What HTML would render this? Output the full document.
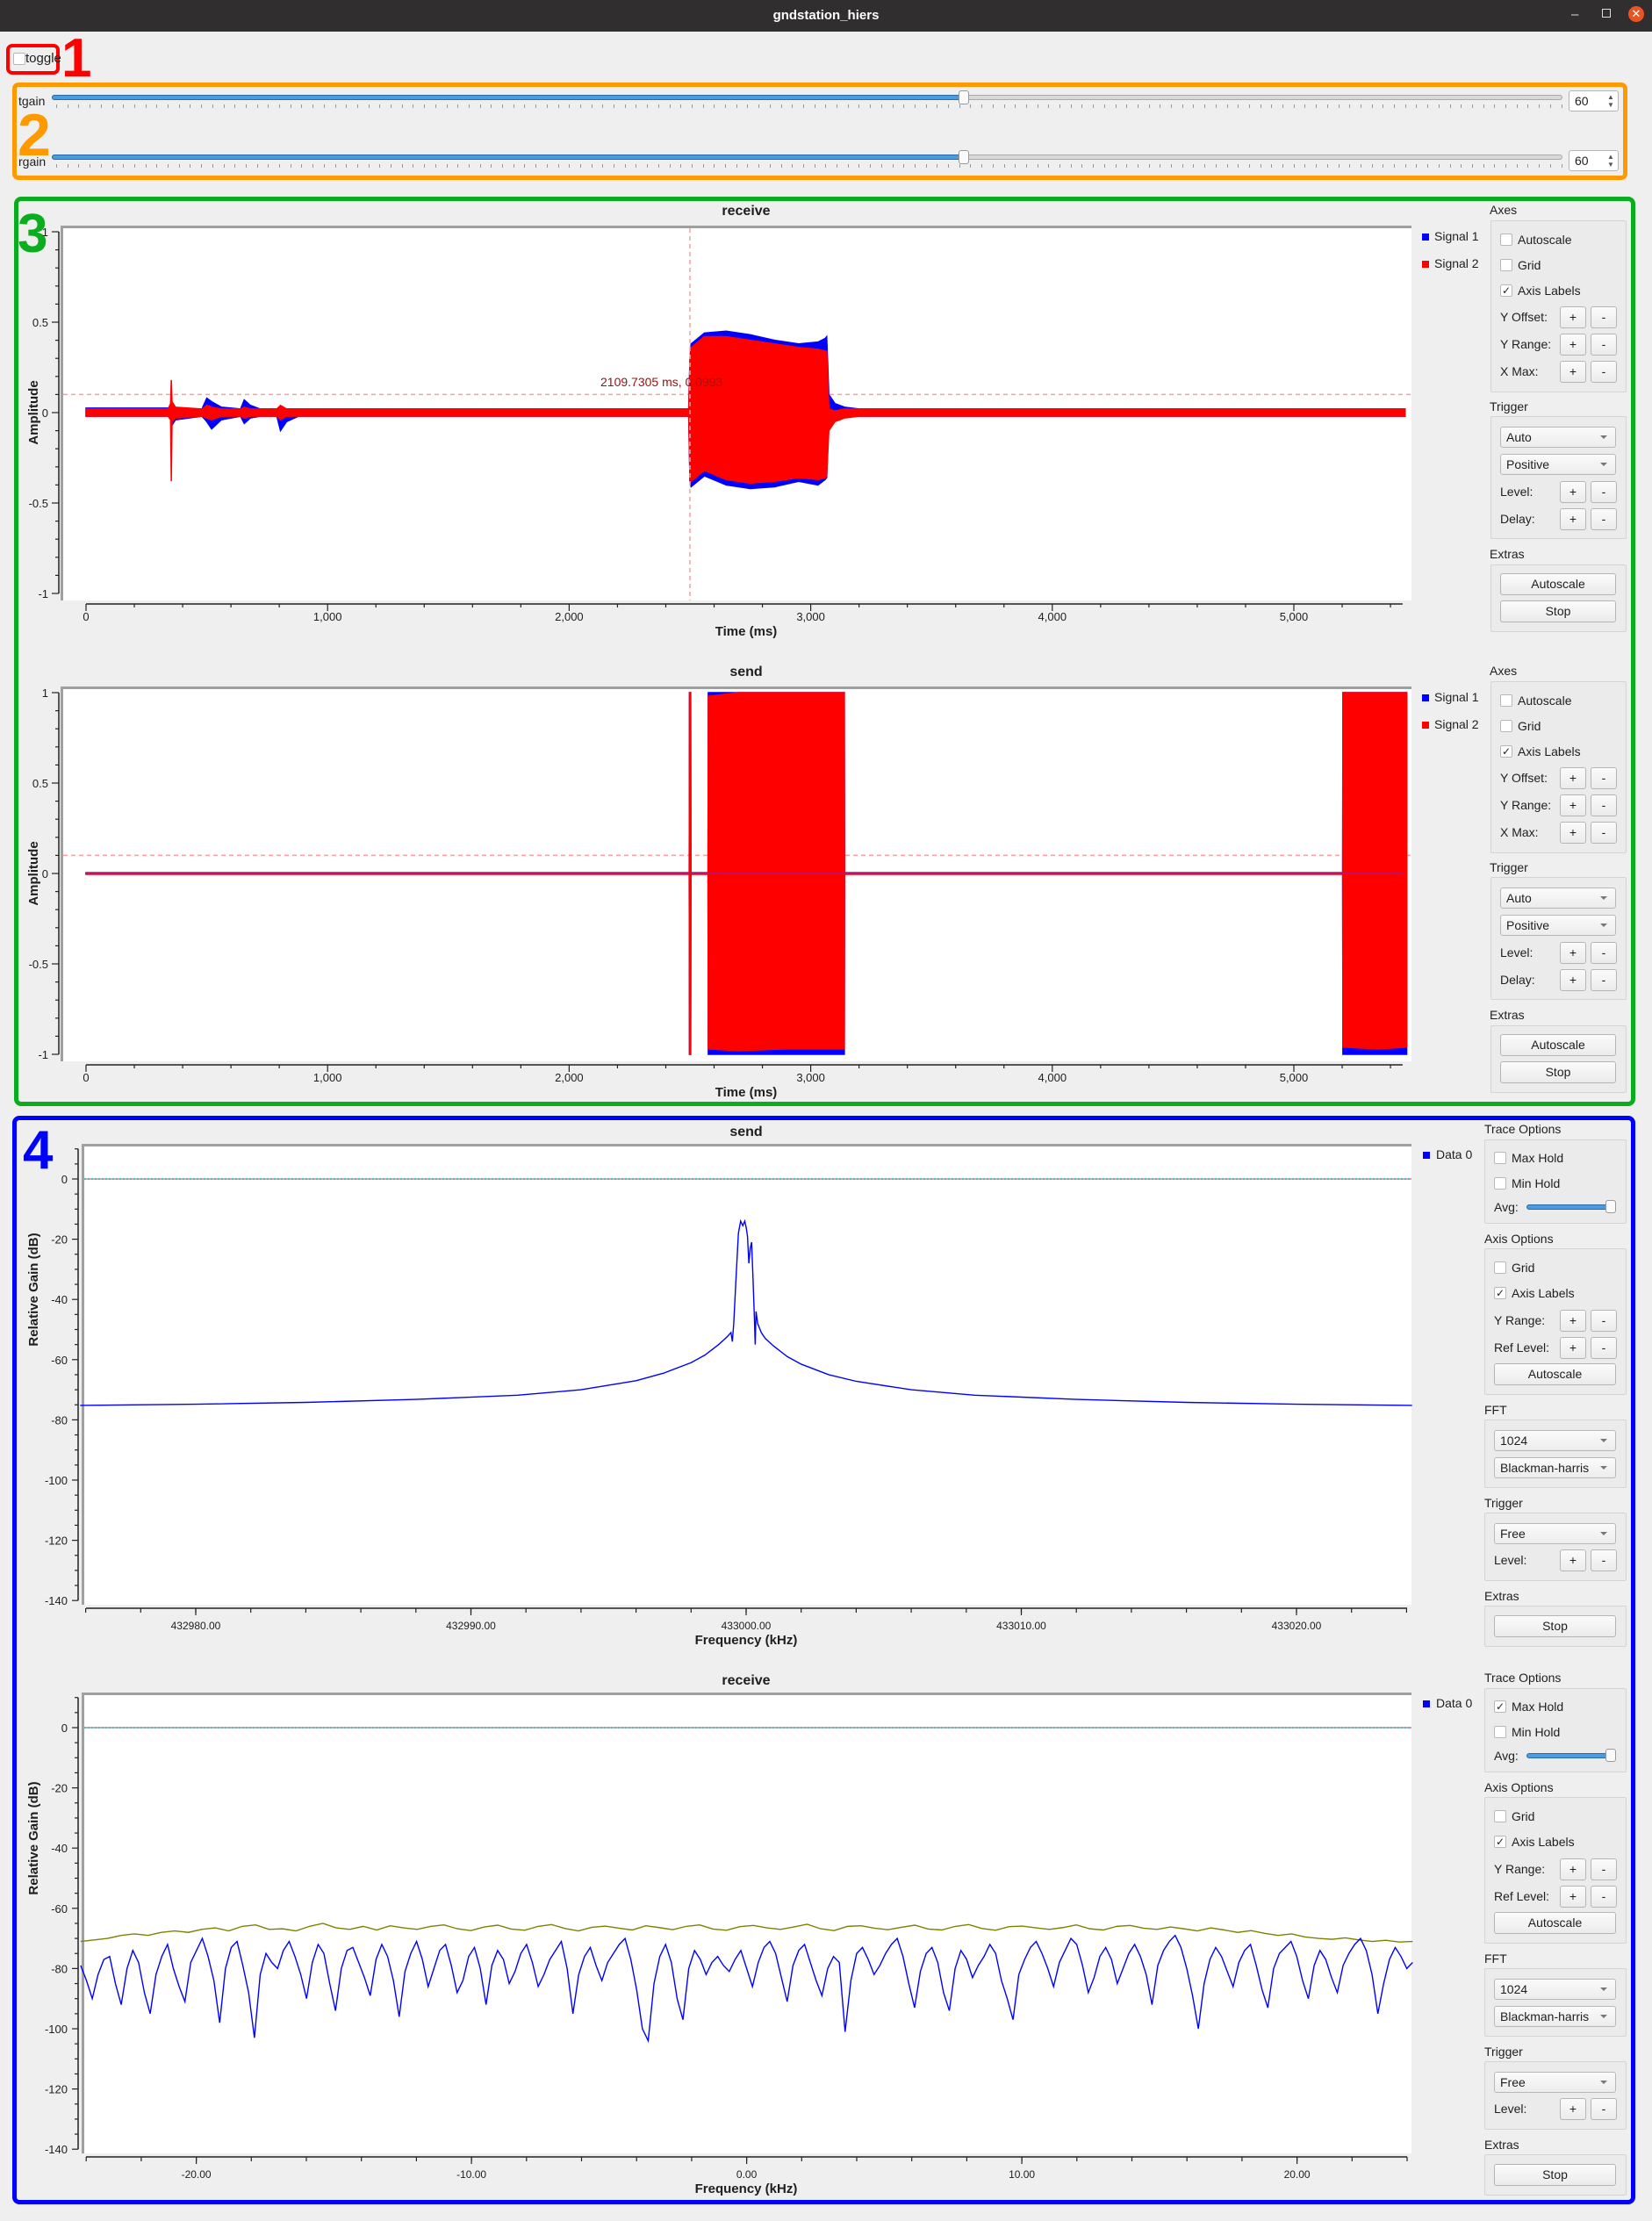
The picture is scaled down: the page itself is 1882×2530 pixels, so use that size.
<!DOCTYPE html>
<html><head><meta charset="utf-8"><title>gndstation_hiers</title>
<style>
html,body{margin:0;padding:0;}
body{width:1882px;height:2530px;background:#efefef;position:relative;overflow:hidden;font-family:"Liberation Sans","DejaVu Sans",sans-serif;color:#1e1e1e;}
.abs{position:absolute;box-sizing:border-box;}
.grp{position:absolute;box-sizing:border-box;border:1px solid #d4d4d4;background:#ebebeb;border-radius:2px;}
.lbl{position:absolute;font-size:14px;line-height:16px;white-space:nowrap;}
.btn{position:absolute;box-sizing:border-box;border:1px solid #b5b5b5;border-radius:3px;background:linear-gradient(#fbfbfb,#ebebeb);font-size:14px;text-align:center;}
.cb{position:absolute;box-sizing:border-box;width:14px;height:14px;border:1px solid #b8b8b8;background:#fff;border-radius:2px;font-size:12px;line-height:12px;text-align:center;}
.combo{position:absolute;box-sizing:border-box;border:1px solid #b8b8b8;border-radius:3px;background:linear-gradient(#fbfbfb,#ececec);font-size:14px;padding-left:6px;}
.combo:after{content:"";position:absolute;right:9px;top:9px;border-left:4px solid transparent;border-right:4px solid transparent;border-top:4px solid #777;}
.big{position:absolute;font-weight:bold;line-height:1;}
</style></head>
<body>
<div class="abs" style="left:0;top:0;width:1882px;height:36px;background:#302e2e;">
  <div class="abs" style="left:0;width:1882px;top:9px;text-align:center;color:#fff;font-weight:bold;font-size:15px;">gndstation_hiers</div>
  <div class="abs" style="left:1790px;top:8px;color:#ddd;font-size:15px;">–</div>
  <div class="abs" style="left:1825px;top:10px;width:10px;height:10px;border:1px solid #ddd;"></div>
  <div class="abs" style="left:1855px;top:7px;width:18px;height:18px;border-radius:9px;background:#e95420;color:#fff;font-size:13px;line-height:18px;text-align:center;">✕</div>
</div>

<!-- region 1 -->
<div class="abs" style="left:7px;top:50px;width:61px;height:35px;border:4px solid #ff0000;border-radius:7px;"></div>
<div class="cb" style="left:15px;top:60px;"></div>
<div class="lbl" style="left:29px;top:59px;font-size:15px;">toggle</div>
<div class="big" style="left:70px;top:36px;font-size:62px;color:#ff0000;">1</div>

<!-- region 2 -->
<div class="abs" style="left:14px;top:94px;width:1840px;height:111px;border:5px solid #ff9900;border-radius:7px;"></div>
<div class="big" style="left:20px;top:120px;font-size:68px;color:#ff9900;">2</div>
<div class="lbl" style="left:21px;top:107px;">tgain</div>
<div class="lbl" style="left:21px;top:176px;">rgain</div>
<div id="sliders"></div>

<!-- region 3 -->
<div class="abs" style="left:16px;top:224px;width:1847px;height:1036px;border:5px solid #0aad1e;border-radius:8px;"></div>
<div class="big" style="left:20px;top:236px;font-size:62px;color:#0aad1e;">3</div>

<!-- region 4 -->
<div class="abs" style="left:14px;top:1271px;width:1849px;height:1240px;border:5px solid #0000ff;border-radius:8px;"></div>
<div class="big" style="left:26px;top:1280px;font-size:62px;color:#0000ff;">4</div>

<div id="panels"></div>

<svg id="plots" width="1882" height="2530" style="position:absolute;left:0;top:0;pointer-events:none;" xmlns="http://www.w3.org/2000/svg"></svg>

<script>
// ===== Time sink data (receive) =====
const recvT    = [0, 340, 350, 353, 356, 370, 480, 500, 520, 560, 640, 655, 680, 720, 790, 805, 830, 880, 2495, 2500, 2505, 2560, 2650, 2750, 2850, 2950, 3030, 3060, 3066, 3075, 3100, 3140, 3200, 5460];
const recvS1Max= [0.025,0.025,0.03,0.03,0.03,0.02,0.02,0.08,0.06,0.03,0.02,0.07,0.04,0.02,0.02,0.03,0.02,0.02,0.02,0.30,0.38,0.44,0.45,0.43,0.40,0.38,0.39,0.41,0.42,0.10,0.05,0.03,0.02,0.02];
const recvS1Min= [-0.02,-0.02,-0.03,-0.05,-0.07,-0.04,-0.02,-0.05,-0.09,-0.04,-0.02,-0.06,-0.03,-0.02,-0.02,-0.10,-0.05,-0.02,-0.02,-0.38,-0.41,-0.35,-0.40,-0.42,-0.41,-0.38,-0.40,-0.37,-0.36,-0.03,-0.03,-0.02,-0.02,-0.02];
const recvS2Max= [0.02,0.02,0.05,0.18,0.06,0.03,0.02,0.04,0.03,0.02,0.02,0.03,0.02,0.02,0.02,0.04,0.02,0.02,0.02,0.28,0.36,0.42,0.42,0.40,0.38,0.36,0.35,0.34,0.34,0.02,0.01,0.02,0.02,0.02];
const recvS2Min= [-0.02,-0.02,-0.04,-0.38,-0.05,-0.03,-0.02,-0.03,-0.04,-0.02,-0.02,-0.03,-0.02,-0.02,-0.02,-0.04,-0.02,-0.02,-0.02,-0.36,-0.38,-0.32,-0.37,-0.39,-0.38,-0.36,-0.37,-0.36,-0.35,-0.10,-0.05,-0.03,-0.02,-0.02];
// ===== Time sink data (send) =====
const sendT    = [0, 2497, 2498, 2503, 2504, 2575, 2576, 2700, 2900, 3139, 3140, 5202, 5203, 5350, 5467];
const sendS1Max= [0.004,0.004,1,1,0.004,0.004,1,1,1,1,0.004,0.004,1,1,1];
const sendS1Min= [-0.004,-0.004,-1,-1,-0.004,-0.004,-1,-1,-1,-1,-0.004,-0.004,-1,-1,-1];
const sendS2Max= [0.004,0.004,1,1,0.004,0.004,0.98,1,1,1,0.004,0.004,1,1,1];
const sendS2Min= [-0.004,-0.004,-1,-1,-0.004,-0.004,-0.97,-0.98,-0.97,-0.97,-0.004,-0.004,-0.96,-0.97,-0.96];
const timeYTicks = [1, 0.5, 0, -0.5, -1];
const timeYTickLabels = ["1", "0.5", "0", "-0.5", "-1"];
const timeXTicks = [0, 1000, 2000, 3000, 4000, 5000];
const timeXTickLabels = ["0", "1,000", "2,000", "3,000", "4,000", "5,000"];
// ===== Frequency sink data (send), offset kHz from 433000 =====
const sendFreq = [-24.2,-20,-16,-12,-8.3,-6,-4,-3,-2,-1.5,-1,-0.7,-0.55,-0.5,-0.45,-0.35,-0.28,-0.2,-0.12,-0.05,0,0.05,0.1,0.15,0.2,0.25,0.3,0.33,0.36,0.42,0.55,0.7,1,1.5,2,3,4,6,8.3,12,16,20,24.2];
const sendDb   = [-75.2,-74.8,-74.2,-73.2,-71.8,-70,-67,-64.5,-61,-58.5,-55,-52.5,-51,-54,-48,-30,-18,-14,-15.5,-14,-16,-19,-28,-23,-21,-33,-46,-55,-44,-48,-51,-53,-55.5,-59,-61.5,-65,-67.2,-70,-71.8,-73.2,-74.2,-74.8,-75.2];
const sendFreqTicks = [432980, 432990, 433000, 433010, 433020];
const sendFreqTickLabels = ["432980.00","432990.00","433000.00","433010.00","433020.00"];
// ===== Frequency sink data (receive), kHz =====
const recvBlueDb = [
-79,-84,-90,-82,-77,-76,-85,-92,-80,-74,-78,-88,-95,-82,-76,-72,-80,-86,-91,-78,
-74,-70,-76,-84,-98,-80,-73,-71,-79,-88,-103,-82,-75,-78,-80,-74,-71,-76,-82,-90,
-78,-72,-75,-85,-94,-80,-74,-73,-78,-83,-89,-77,-72,-76,-84,-96,-81,-75,-71,-77,
-86,-80,-74,-72,-79,-88,-84,-76,-73,-80,-92,-79,-74,-77,-85,-81,-75,-72,-78,-86,
-82,-77,-74,-71,-80,-95,-82,-76,-73,-79,-84,-78,-75,-72,-70,-77,-87,-100,-104,-85,
-76,-72,-78,-90,-97,-80,-74,-77,-82,-78,-76,-79,-81,-77,-74,-80,-86,-78,-73,-71,
-75,-83,-91,-79,-74,-72,-78,-84,-89,-80,-76,-78,-101,-84,-75,-73,-77,-82,-79,-75,
-72,-70,-76,-85,-93,-81,-75,-73,-78,-88,-94,-80,-74,-77,-83,-79,-76,-72,-75,-84,
-90,-97,-82,-77,-73,-71,-75,-80,-86,-78,-74,-70,-72,-79,-88,-83,-76,-73,-77,-85,
-80,-75,-72,-76,-82,-92,-79,-74,-71,-69,-73,-80,-89,-100,-85,-77,-73,-76,-81,-86,
-78,-74,-72,-79,-87,-93,-80,-75,-73,-71,-76,-84,-90,-79,-74,-77,-83,-88,-79,-75,
-72,-70,-74,-82,-95,-85,-77,-73,-76,-80,-78];
const recvMaxHoldDb = [
-71,-70.5,-70,-69,-68.5,-69,-68,-67.5,-68,-67,-66.5,-67.5,-66,-65.5,-67,-66.8,-67.5,-66,-65,-66.5,
-67,-66,-67.2,-65.8,-66.5,-67,-66,-65.5,-66.8,-67.4,-66.2,-65.6,-66.9,-67.3,-66,-65.4,-66.7,-67.5,-66.3,-65.9,
-66.6,-67.2,-65.8,-66.4,-67.1,-66,-65.5,-66.9,-67.3,-66.1,-65.7,-66.5,-67,-66.2,-65.3,-66.8,-67.4,-66,-65.8,-66.6,
-67.1,-66.3,-65.6,-66.9,-67.2,-66,-65.4,-66.7,-67.3,-66.1,-65.9,-66.5,-67,-66.4,-65.5,-66.8,-67.2,-66,-65.7,-66.6,
-67,-66.2,-66.8,-67.5,-66.5,-67.2,-68,-67.4,-68.3,-69,-68.5,-69.5,-70,-70.3,-69.8,-70.5,-71,-70.6,-71.2,-71];
const recvFreqRange = [-24.2, 24.2];
const recvFreqTicks = [-20, -10, 0, 10, 20];
const recvFreqTickLabels = ["-20.00","-10.00","0.00","10.00","20.00"];
const dbTicks = [0, -20, -40, -60, -80, -100, -120, -140];
const dbTickLabels = ["0","-20","-40","-60","-80","-100","-120","-140"];

const NS = "http://www.w3.org/2000/svg";
const svg = document.getElementById('plots');
function mk(tag, attrs, parent){ const e=document.createElementNS(NS,tag); for(const k in attrs) e.setAttribute(k, attrs[k]); (parent||svg).appendChild(e); return e; }
function txt(x,y,s,attrs){ const t=mk('text',Object.assign({x:x,y:y,'font-family':'Liberation Sans, DejaVu Sans, sans-serif','font-size':13,fill:'#1e1e1e'},attrs||{})); t.textContent=s; return t; }

// ---------- time plots ----------
function timePlot(oy, title, T, s1max, s1min, s2max, s2min, showTrigText){
  const X = t => 98 + t*0.2752;
  const Y = v => 470 + oy - v*206;
  const g = mk('g',{});
  
  
  const bg = mk('rect',{x:69,y:257+oy,width:1539,height:427,fill:'#fff'},g);
  
  
  mk('path',{d:`M70.5 ${684+oy} V${258.5+oy} H1608`,stroke:'#a0a0a0','stroke-width':3,fill:'none'},g);
  const tt = txt(850, 245+oy, title, {'text-anchor':'middle','font-weight':'bold','font-size':16});
  
  
  // y axis
  mk('line',{x1:67,y1:Y(1),x2:67,y2:Y(-1),stroke:'#222','stroke-width':1.5},g);
  for(let v=-10; v<=10; v++){ const yy=Y(v/10); const major=(v%5===0); mk('line',{x1:major?59:63,y1:yy,x2:67,y2:yy,stroke:'#222','stroke-width':1.2},g); }
  timeYTicks.forEach((v,i)=>{ const l=txt(55, Y(v)+5, timeYTickLabels[i], {'text-anchor':'end'});   });
  const yl = txt(0,0,'Amplitude',{'font-weight':'bold','font-size':15,'text-anchor':'middle',transform:`translate(43 ${470+oy}) rotate(-90)`});
  
  
  // x axis
  mk('line',{x1:X(0),y1:688+oy,x2:X(5450),y2:688+oy,stroke:'#222','stroke-width':1.5},g);
  for(let t=0; t<=5400; t+=200){ const major=(t%1000===0); mk('line',{x1:X(t),y1:688+oy,x2:X(t),y2:(major?696:692)+oy,stroke:'#222','stroke-width':1.2},g); }
  timeXTicks.forEach((t,i)=>{ const l=txt(X(t), 707+oy, timeXTickLabels[i], {'text-anchor':'middle'});   });
  const xl = txt(850, 724+oy, 'Time (ms)', {'text-anchor':'middle','font-weight':'bold','font-size':15});
  
  
  // trigger lines
  const th = mk('line',{x1:72,y1:Y(0.1),x2:1608,y2:Y(0.1),stroke:'#f4a0a0','stroke-width':1.5,'stroke-dasharray':'5,4'},g);
  
  
  // series envelopes
  function env(mx, mn, color, name){
    let d='M'+X(T[0])+' '+Y(mx[0]);
    for(let i=1;i<T.length;i++) d+=' L'+X(T[i])+' '+Y(mx[i]);
    for(let i=T.length-1;i>=0;i--) d+=' L'+X(T[i])+' '+Y(mn[i]);
    const p = mk('path',{d:d+'Z',fill:color,stroke:color,'stroke-width':1.5},g);
    
    
  }
  env(s1max, s1min, '#0000ff', 'signal-1-trace');
  env(s2max, s2min, '#ff0000', 'signal-2-trace');
  if(showTrigText){
    const tv = mk('line',{x1:786,y1:260+oy,x2:786,y2:684+oy,stroke:'#f4a0a0','stroke-width':1.5,'stroke-dasharray':'5,4'},g);
    
    
    const tl = txt(684, 440+oy, '2109.7305 ms, 0.0993', {fill:'#a01010','font-size':14});
    
    
  } else {
    mk('line',{x1:X(0),y1:Y(0),x2:X(5450),y2:Y(0),stroke:'#c0106a','stroke-width':2},g);
  }
}
timePlot(0, 'receive', recvT, recvS1Max, recvS1Min, recvS2Max, recvS2Min, true);
timePlot(525, 'send', sendT, sendS1Max, sendS1Min, sendS2Max, sendS2Min, false);

// ---------- frequency plots ----------
function freqPlot(oy, title, xFn, ticksMinor, ticks, tickLabels){
  const Y = db => 1343 + oy - db*3.43;
  const g = mk('g',{});
  
  
  const bg = mk('rect',{x:93,y:1303+oy,width:1515,height:525,fill:'#fff'},g);
  
  
  mk('path',{d:`M94.5 ${1828+oy} V${1304.5+oy} H1608`,stroke:'#a0a0a0','stroke-width':3,fill:'none'},g);
  const tt = txt(850, 1294+oy, title, {'text-anchor':'middle','font-weight':'bold','font-size':16});
  
  
  mk('line',{x1:89,y1:Y(10),x2:89,y2:Y(-140),stroke:'#222','stroke-width':1.5},g);
  for(let db=10; db>=-140; db-=5){ const major=(db%20===0); mk('line',{x1:major?82:85,y1:Y(db),x2:89,y2:Y(db),stroke:'#222','stroke-width':1.2},g); }
  dbTicks.forEach((v,i)=>{ const l=txt(77, Y(v)+5, dbTickLabels[i], {'text-anchor':'end'});   });
  const yl = txt(0,0,'Relative Gain (dB)',{'font-weight':'bold','font-size':15,'text-anchor':'middle',transform:`translate(43 ${1469+oy}) rotate(-90)`});
  
  
  mk('line',{x1:98,y1:1832+oy,x2:1603,y2:1832+oy,stroke:'#222','stroke-width':1.5},g);
  ticksMinor.forEach(f=>{ mk('line',{x1:xFn(f),y1:1832+oy,x2:xFn(f),y2:1837+oy,stroke:'#222','stroke-width':1.2},g); });
  ticks.forEach((f,i)=>{ mk('line',{x1:xFn(f),y1:1832+oy,x2:xFn(f),y2:1840+oy,stroke:'#222','stroke-width':1.2},g);
    const l=txt(xFn(f), 1856+oy, tickLabels[i], {'text-anchor':'middle','font-size':12});   });
  const xl = txt(850, 1873+oy, 'Frequency (kHz)', {'text-anchor':'middle','font-weight':'bold','font-size':15});
  
  
  mk('line',{x1:96,y1:Y(0),x2:1608,y2:Y(0),stroke:'#d04040','stroke-width':1},g);
  const ref = mk('line',{x1:96,y1:Y(0),x2:1608,y2:Y(0),stroke:'#00b0c0','stroke-width':1.5,'stroke-dasharray':'2,2'},g);
  
  
  return {g:g, Y:Y};
}
// send spectrum
const sx = f => 223 + (f-432980)*31.35;
const sMinor=[]; for(let f=432976; f<=433024; f+=2) sMinor.push(f);
const sp = freqPlot(0, 'send', sx, sMinor, sendFreqTicks, sendFreqTickLabels);
{
  const pts = sendFreq.map((f,i)=> sx(433000+f)+','+sp.Y(sendDb[i])).join(' ');
  const pl = mk('polyline',{points:pts,fill:'none',stroke:'#0000ff','stroke-width':1.4},sp.g);
  
  
}
// receive spectrum
const rx = f => 850.6 + f*31.35;
const rMinor=[]; for(let f=-24; f<=24; f+=2) rMinor.push(f);
const rp = freqPlot(625, 'receive', rx, rMinor, recvFreqTicks, recvFreqTickLabels);
{
  const fAt = (i,n) => recvFreqRange[0] + i*(recvFreqRange[1]-recvFreqRange[0])/(n-1);
  const mh = recvMaxHoldDb.map((v,i)=> rx(fAt(i,recvMaxHoldDb.length))+','+rp.Y(v)).join(' ');
  const p1 = mk('polyline',{points:mh,fill:'none',stroke:'#808000','stroke-width':1.4},rp.g);
  
  
  const bl = recvBlueDb.map((v,i)=> rx(fAt(i,recvBlueDb.length))+','+rp.Y(v)).join(' ');
  const p2 = mk('polyline',{points:bl,fill:'none',stroke:'#0000ff','stroke-width':1.4},rp.g);
  
  
}

// ---------- HTML controls ----------
const host = document.getElementById('panels');
function el(cls, x, y, w, h, text, extra){
  const d=document.createElement('div'); d.className=cls;
  d.style.left=x+'px'; d.style.top=y+'px';
  if(w!=null) d.style.width=w+'px';
  if(h!=null){ d.style.height=h+'px'; d.style.lineHeight=(h-2)+'px'; }
  if(text!=null) d.textContent=text;
  if(extra) d.style.cssText += extra;
  host.appendChild(d); return d;
}
// sliders
[[108,'tgain'],[176,'rgain']].forEach(([gy,nm])=>{
  const groove = el('abs',59,gy,1721,6,null,'background:#d8d8d8;border:1px solid #aaa;border-radius:3px;line-height:0;');
  
  
  const fill = el('abs',59,gy,1040,6,null,'background:#4a9be0;border:1px solid #2a6aa6;border-radius:3px;line-height:0;');
  
  
  const handle = el('abs',1092,gy-5,12,16,null,'background:#fafafa;border:1px solid #9a9a9a;border-radius:3px;line-height:0;');
  
  
  for(let x=64; x<1780; x+=12.7){
    const t=el('abs',x,gy+11,1,4,null,'background:#999;line-height:0;');
    
    
  }
  const spin = el('abs',1787,gy-5,57,24,null,'background:#fff;border:1px solid #b5b5b5;border-radius:3px;font-size:14px;padding-left:6px;');
  spin.textContent='60';
  
  
  const arr = el('abs',1831,gy-2,10,18,null,'font-size:8px;line-height:9px;color:#555;');
  arr.textContent='▲\n▼'; arr.style.whiteSpace='pre';
  
  
});

function pmRow(label, y, name, bx){
  const l = el('lbl',bx,y-8,null,null,label);
  
  
  const p = el('btn',1777,y-12,30,25,'+');
  
  
  const m = el('btn',1812,y-12,30,25,'-');
  
  
}
function cbRow(label, x, y, checked, name){
  const c = el('cb',x,y-7,null,null,checked?'✓':'');
  
  
  const l = el('lbl',x+20,y-8,null,null,label);
  
  
}
function timePanel(oy, prefix){
  const lg1 = el('abs',1620,266+oy,8,8,null,'background:#0000ff;');
  
  
  const lt1 = el('lbl',1634,261+oy,null,null,'Signal 1');
  
  
  const lg2 = el('abs',1620,297+oy,8,8,null,'background:#ff0000;');
  
  
  const lt2 = el('lbl',1634,292+oy,null,null,'Signal 2');
  
  

  const a = el('lbl',1697,231+oy,null,null,'Axes');
  
  
  const ga = el('grp',1698,251+oy,155,196);
  
  
  cbRow('Autoscale',1709,273+oy,false,prefix+'-autoscale');
  cbRow('Grid',1709,302+oy,false,prefix+'-grid');
  cbRow('Axis Labels',1709,331+oy,true,prefix+'-axis-labels');
  pmRow('Y Offset:',361+oy,prefix+'-y-offset',1709);
  pmRow('Y Range:',392+oy,prefix+'-y-range',1709);
  pmRow('X Max:',423+oy,prefix+'-x-max',1709);

  const t = el('lbl',1697,455+oy,null,null,'Trigger');
  
  
  const gt = el('grp',1698,474+oy,155,140);
  
  
  const c1 = el('combo',1709,486+oy,132,24,'Auto');
  
  
  const c2 = el('combo',1709,517+oy,132,24,'Positive');
  
  
  pmRow('Level:',560+oy,prefix+'-trigger-level',1709);
  pmRow('Delay:',591+oy,prefix+'-trigger-delay',1709);

  const e = el('lbl',1697,623+oy,null,null,'Extras');
  
  
  const ge = el('grp',1698,643+oy,155,77);
  
  
  const b1 = el('btn',1709,653+oy,132,25,'Autoscale');
  
  
  const b2 = el('btn',1709,684+oy,132,25,'Stop');
  
  
}
timePanel(0,'receive-time');
timePanel(525,'send-time');

function freqPanel(oy, prefix, maxHold){
  const lg = el('abs',1621,1312+oy,8,8,null,'background:#0000ff;');
  
  
  const lt = el('lbl',1636,1307+oy,null,null,'Data 0');
  
  

  const h1 = el('lbl',1691,1278+oy,null,null,'Trace Options');
  
  
  const g1 = el('grp',1691,1298+oy,162,96);
  
  
  cbRow('Max Hold',1702,1319+oy,maxHold,prefix+'-max-hold');
  cbRow('Min Hold',1702,1348+oy,false,prefix+'-min-hold');
  const al = el('lbl',1702,1367+oy,null,null,'Avg:');
  
  
  const as = el('abs',1739,1372+oy,98,6,null,'background:#4a9be0;border:1px solid #2a6aa6;border-radius:3px;');
  
  
  const ah = el('abs',1829,1367+oy,12,15,null,'background:#fafafa;border:1px solid #9a9a9a;border-radius:3px;');
  
  

  const h2 = el('lbl',1691,1403+oy,null,null,'Axis Options');
  
  
  const g2 = el('grp',1691,1422+oy,162,167);
  
  
  cbRow('Grid',1702,1444+oy,false,prefix+'-grid');
  cbRow('Axis Labels',1702,1473+oy,true,prefix+'-axis-labels');
  pmRow('Y Range:',1504+oy,prefix+'-y-range',1702);
  pmRow('Ref Level:',1535+oy,prefix+'-ref-level',1702);
  const ab = el('btn',1702,1553+oy,139,25,'Autoscale');
  
  

  const h3 = el('lbl',1691,1598+oy,null,null,'FFT');
  
  
  const g3 = el('grp',1691,1617+oy,162,78);
  
  
  const f1 = el('combo',1702,1629+oy,139,24,'1024');
  
  
  const f2 = el('combo',1702,1660+oy,139,24,'Blackman-harris');
  
  

  const h4 = el('lbl',1691,1704+oy,null,null,'Trigger');
  
  
  const g4 = el('grp',1691,1723+oy,162,78);
  
  
  const fr = el('combo',1702,1735+oy,139,24,'Free');
  
  
  pmRow('Level:',1777+oy,prefix+'-trigger-level',1702);

  const h5 = el('lbl',1691,1810+oy,null,null,'Extras');
  
  
  const g5 = el('grp',1691,1829+oy,162,47);
  
  
  const sb = el('btn',1702,1840+oy,139,25,'Stop');
  
  
}
freqPanel(0,'send-freq',false);
freqPanel(625,'receive-freq',true);
</script>
</body></html>
